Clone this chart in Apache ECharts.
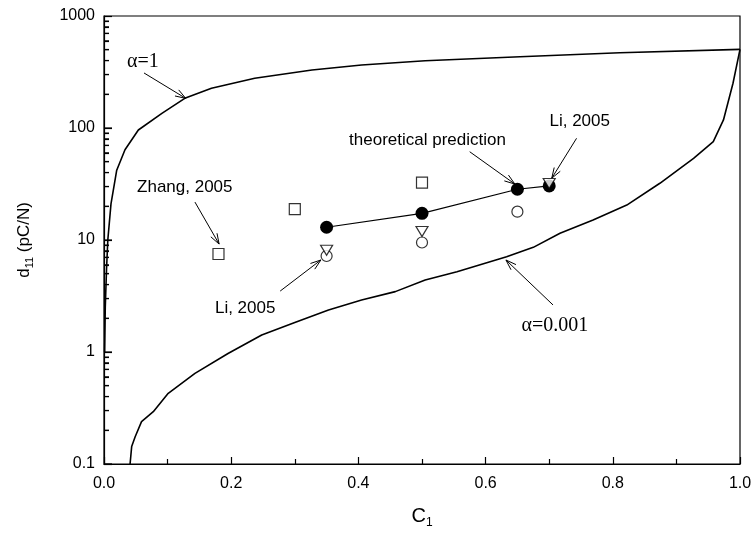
<!DOCTYPE html>
<html>
<head>
<meta charset="utf-8">
<script src="https://cdn.jsdelivr.net/npm/echarts@6/dist/echarts.min.js"></script>
<style>html,body{margin:0;padding:0;background:#fff}#main{width:755px;height:539px}</style>
</head>
<body>
<div id="main"></div>
<script>
// alpha = 1 curve
var alpha1C = [0.001, 0.002, 0.004, 0.006, 0.011, 0.020, 0.033, 0.054, 0.091, 0.127, 0.169, 0.237, 0.327, 0.405, 0.505, 0.654, 0.811, 1.0];
var alpha1D = [1.0, 2.5, 5.5, 10, 21, 42, 64, 96, 135, 184, 226, 278, 330, 365, 399, 433, 470, 504];
// alpha = 0.001 curve
var alpha001C = [0.041, 0.0435, 0.049, 0.059, 0.0775, 0.101, 0.143, 0.195, 0.248, 0.300, 0.353, 0.405, 0.458, 0.505, 0.555, 0.633, 0.675, 0.717, 0.769, 0.822, 0.874, 0.927, 0.958, 0.974, 0.989, 1.0];
var alpha001D = [0.1, 0.143, 0.175, 0.239, 0.293, 0.428, 0.645, 0.97, 1.42, 1.83, 2.37, 2.91, 3.46, 4.4, 5.21, 7.1, 8.6, 11.5, 15.1, 20.5, 32.1, 53.6, 75.5, 118, 251, 504];
// theoretical prediction
var theoryC = [0.35, 0.5, 0.65, 0.7];
var theoryD = [13.0, 17.3, 28.4, 30.4];
// Zhang, 2005 (squares)
var zhangC = [0.18, 0.3, 0.5];
var zhangD = [7.5, 18.9, 32.5];
// Li, 2005 (triangles and circles)
var liTriC = [0.35, 0.5, 0.7];
var liTriD = [8.1, 11.9, 32];
var liCircC = [0.35, 0.5, 0.65];
var liCircD = [7.2, 9.5, 17.9];
// axis ticks
var xTicks = [0, 0.2, 0.4, 0.6, 0.8, 1.0];
var yTicks = [0.1, 1, 10, 100, 1000];

// notes: text, where the text sits, arrow start, arrow end (data space)
var notes = [
  {text: 'α=1', serif: true, at: [0.0613, 388], from: [0.0629, 310], to: [0.1285, 184]},
  {text: 'Zhang, 2005', at: [0.127, 29.7], from: [0.143, 21.8], to: [0.181, 9.2]},
  {text: 'Li, 2005', at: [0.222, 2.47], from: [0.277, 3.5], to: [0.341, 6.63]},
  {text: 'theoretical prediction', right: true, at: [0.632, 78.2], from: [0.575, 61.4], to: [0.646, 31.6]},
  {text: 'Li, 2005', at: [0.748, 114], from: [0.743, 80.9], to: [0.704, 35.6]},
  {text: 'α=0.001', serif: true, at: [0.709, 1.72], from: [0.706, 2.63], to: [0.632, 6.63]}
];

function zip(a, b) {
  return a.map(function (v, i) { return [v, b[i]]; });
}

var sans = "'Liberation Sans', Arial, sans-serif";
var serif = "'Liberation Serif', 'Times New Roman', serif";
var gridLeft = 104, gridTop = 16, gridRight = 15, gridBottom = 75;

var chart = echarts.init(document.getElementById('main'));

chart.setOption({
  animation: false,
  backgroundColor: '#fff',
  grid: {left: gridLeft, right: gridRight, top: gridTop, bottom: gridBottom,
    show: true, borderColor: '#000', borderWidth: 1.2},
  xAxis: {
    type: 'value', min: 0, max: 1, interval: 0.2,
    axisLine: {lineStyle: {color: '#000', width: 1.2}},
    axisTick: {inside: true, length: 7, lineStyle: {color: '#000', width: 1.2}},
    minorTick: {show: true, splitNumber: 2, length: 5, lineStyle: {color: '#000', width: 1.2}},
    splitLine: {show: false},
    axisLabel: {
      color: '#000', fontFamily: sans, fontSize: 16, margin: 12,
      formatter: function (v) { return v.toFixed(1); }
    }
  },
  yAxis: {
    type: 'log', logBase: 10, min: 0.1, max: 1000,
    axisLine: {show: true, lineStyle: {color: '#000', width: 1.2}},
    axisTick: {show: true, inside: true, length: 8, lineStyle: {color: '#000', width: 1.2}},
    minorTick: {show: true, splitNumber: 9, length: 5, lineStyle: {color: '#000', width: 1.2}},
    splitLine: {show: false},
    axisLabel: {
      color: '#000', fontFamily: sans, fontSize: 16, margin: 9,
      formatter: function (v) {
        var t = yTicks.filter(function (k) { return Math.abs(k - v) / k < 1e-6; });
        return t.length ? String(t[0]) : '';
      }
    }
  },
  series: [
    {type: 'line', data: zip(alpha1C, alpha1D), showSymbol: false, symbol: 'none',
      lineStyle: {color: '#000', width: 1.6}, z: 2},
    {type: 'line', data: zip(alpha001C, alpha001D), showSymbol: false, symbol: 'none',
      lineStyle: {color: '#000', width: 1.6}, z: 2},
    {type: 'line', data: zip(theoryC, theoryD), symbol: 'circle', symbolSize: 13,
      itemStyle: {color: '#000'}, lineStyle: {color: '#000', width: 1.2}, z: 3},
    {type: 'scatter', data: zip(liCircC, liCircD), symbol: 'circle', symbolSize: 11,
      itemStyle: {color: '#fff', borderColor: '#000', borderWidth: 1.2}, z: 4},
    {type: 'scatter', data: zip(liTriC, liTriD), symbol: 'triangle', symbolRotate: 180, symbolSize: [12, 10],
      itemStyle: {color: '#fff', borderColor: '#000', borderWidth: 1.2}, z: 5},
    {type: 'scatter', data: zip(zhangC, zhangD), symbol: 'rect', symbolSize: 11,
      itemStyle: {color: '#fff', borderColor: '#000', borderWidth: 1.2}, z: 4}
  ]
});

function px(p) {
  return chart.convertToPixel({gridIndex: 0}, p);
}

var g = [];
// y ticks on a top layer, placed from the y axis scale alone
yTicks.slice(0, -1).forEach(function (d) {
  for (var m = 1; m < 10; m++) {
    var ty = chart.convertToPixel({yAxisIndex: 0}, m * d);
    g.push({type: 'rect', silent: true, zlevel: 2,
      shape: {x: gridLeft, y: ty - 0.6, width: m === 1 ? 8 : 5, height: 1.2},
      style: {fill: '#000'}});
  }
});
// axis titles
g.push({type: 'text', silent: true, x: gridLeft + (755 - gridLeft - gridRight) / 2, y: 516, style: {
  text: '{n|C}{s|1}', align: 'center', verticalAlign: 'middle',
  rich: {
    n: {fontFamily: sans, fontSize: 20, fill: '#000'},
    s: {fontFamily: sans, fontSize: 12, fill: '#000', padding: [13, 0, 0, 0]}
  }
}});
g.push({type: 'text', silent: true, x: 24, y: gridTop + (539 - gridTop - gridBottom) / 2, rotation: Math.PI / 2,
  style: {
    text: '{n|d}{s|11}{n| (pC/N)}', align: 'center', verticalAlign: 'middle',
    rich: {
      n: {fontFamily: sans, fontSize: 17, fill: '#000'},
      s: {fontFamily: sans, fontSize: 11, fill: '#000', padding: [11, 0, 0, 0]}
    }
  }});
// annotations with open arrow heads
notes.forEach(function (a) {
  var t = px(a.at), s = px(a.from), e = px(a.to);
  g.push({type: 'text', silent: true, x: t[0], y: t[1], style: {
    text: a.text, fill: '#000',
    fontFamily: a.serif ? serif : sans, fontSize: a.serif ? 20 : 17,
    align: a.right ? 'right' : 'center', verticalAlign: 'middle'
  }});
  g.push({type: 'line', silent: true, shape: {x1: s[0], y1: s[1], x2: e[0], y2: e[1]},
    style: {stroke: '#000', lineWidth: 1}});
  var ang = Math.atan2(s[1] - e[1], s[0] - e[0]), L = 11, th = 0.33;
  g.push({type: 'polyline', silent: true, shape: {points: [
    [e[0] + L * Math.cos(ang + th), e[1] + L * Math.sin(ang + th)],
    [e[0], e[1]],
    [e[0] + L * Math.cos(ang - th), e[1] + L * Math.sin(ang - th)]
  ]}, style: {stroke: '#000', fill: null, lineWidth: 1}});
});
chart.setOption({graphic: g});
</script>
</body>
</html>
